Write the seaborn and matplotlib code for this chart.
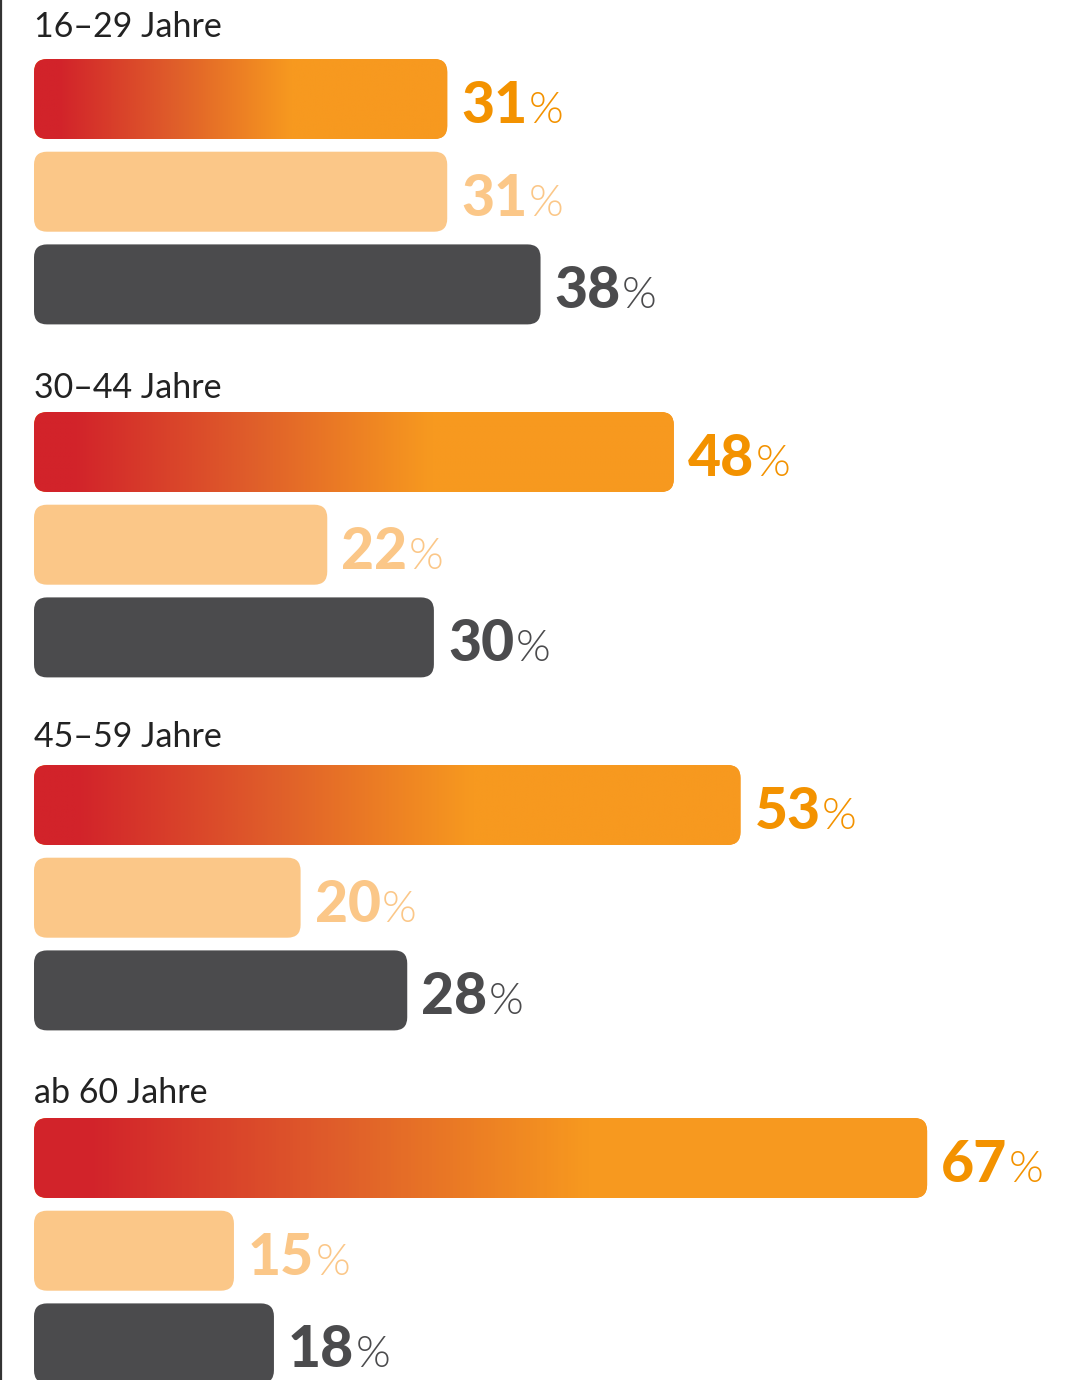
import numpy as np
import pandas as pd
import matplotlib
matplotlib.use("Agg")
import matplotlib.pyplot as plt
import seaborn as sns
from matplotlib.patches import FancyBboxPatch
from matplotlib.colors import LinearSegmentedColormap
from matplotlib.lines import Line2D

# ---------------- data ----------------
groups = ["16–29 Jahre", "30–44 Jahre", "45–59 Jahre", "ab 60 Jahre"]
series = ["A", "B", "C"]
values_A = [31, 48, 53, 67]
values_B = [31, 22, 20, 15]
values_C = [38, 30, 28, 18]

# ---------------- style ----------------
sns.set_theme(style="white")
plt.rcParams["font.family"] = ["Lato", "DejaVu Sans"]

W, H = 1087, 1380
DPI = 100
fig = plt.figure(figsize=(W / DPI, H / DPI), dpi=DPI)
ax = fig.add_axes([0, 0, 1, 1])

# layout in pixels
px_per_pct = 13.33
x0_px = 34
first_center = 99
bar_pitch = 92.7
group_pitch = 353
bar_h = 80
label_gap = [22, 14, 18, 15]

rows = []
vals = [values_A, values_B, values_C]
for g, name in enumerate(groups):
    for i, s in enumerate(series):
        rows.append({"group": name, "series": s, "value": vals[i][g],
                     "pos": first_center + g * group_pitch + i * bar_pitch})
df = pd.DataFrame(rows)

colors = {"A": "#f7991f", "B": "#fbc788", "C": "#4b4b4d"}
text_colors = {"A": "#f39200", "B": "#fbc788", "C": "#4b4b4d"}

sns.barplot(data=df, x="value", y="pos", hue="series", palette=colors,
            orient="h", native_scale=True, dodge=False,
            width=bar_h / bar_pitch, legend=False, ax=ax, saturation=1)

xmin = -x0_px / px_per_pct
xmax = (W - x0_px) / px_per_pct
ax.set_xlim(xmin, xmax)
ax.set_ylim(H, 0)
ax.axis("off")

cmap = LinearSegmentedColormap.from_list(
    "grad", [(0.0, "#d2232a"), (0.06, "#d2232a"), (0.35, "#e0602a"),
             (0.62, "#f7991f"), (1.0, "#f7991f")])

radius_px = 13
rs = radius_px / px_per_pct

patches = list(ax.patches)
for p in patches:
    x, y = p.get_x(), p.get_y()
    w, h = p.get_width(), p.get_height()
    fc = p.get_facecolor()
    p.remove()
    yc = y + h / 2
    row = df.iloc[(df["pos"] - yc).abs().argmin()]
    fb = FancyBboxPatch((x, y), w, h,
                        boxstyle=f"round,pad=0,rounding_size={rs}",
                        mutation_aspect=px_per_pct,
                        facecolor=fc, edgecolor="none", zorder=2)
    ax.add_patch(fb)
    if row["series"] == "A":
        grad = np.linspace(0, 1, 256).reshape(1, -1)
        im = ax.imshow(grad, cmap=cmap, aspect="auto",
                       extent=(x, x + w, y + h, y), zorder=3,
                       interpolation="bilinear")
        im.set_clip_path(fb)
    # value labels
    tx = x + w + 14 / px_per_pct
    ty = yc + 24
    t = ax.text(tx, ty, f"{int(row['value'])}", color=text_colors[row["series"]],
                fontsize=41, fontweight="black", va="baseline", ha="left",
                zorder=4)
    ax.annotate("%", xy=(1, ty), xycoords=(t, "data"),
                xytext=(1, 0), textcoords="offset points",
                color=text_colors[row["series"]], fontsize=32,
                fontweight=300, va="baseline", ha="left", zorder=4)

# group labels
for g, name in enumerate(groups):
    top = first_center + g * group_pitch - bar_h / 2
    ax.text(0, top - label_gap[g], name, fontsize=24.5, color="#222222",
            va="baseline", ha="left")

# left vertical rule
fig.add_artist(Line2D([1.2 / W, 1.2 / W], [0, 1], color="#333333", lw=1.6,
                      transform=fig.transFigure))

fig.savefig("out.png", dpi=DPI, facecolor="white")
